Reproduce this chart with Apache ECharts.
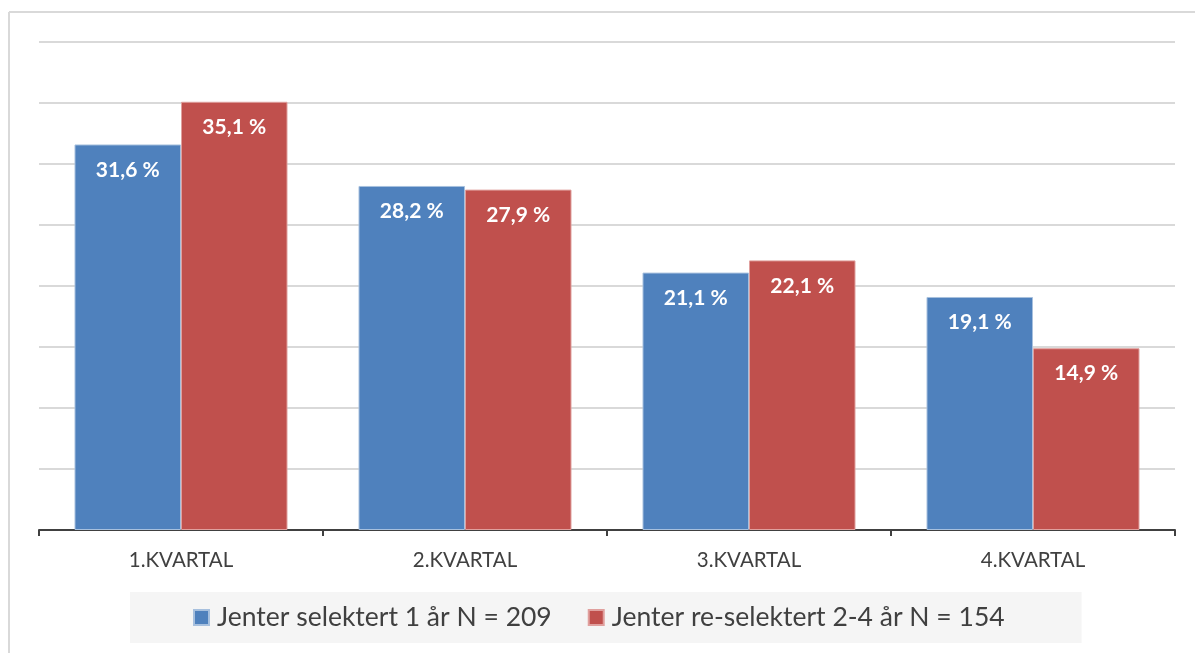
<!DOCTYPE html>
<html>
<head>
<meta charset="utf-8">
<script src="https://cdn.jsdelivr.net/npm/echarts@6/dist/echarts.min.js"></script>
<style>
  html, body { margin: 0; padding: 0; background: #fff; }
  #chart { width: 1195px; height: 653px; }
</style>
</head>
<body>
<div id="chart"></div>
<script>
// Quarter categories and the two groups' shares (percent)
const categories = ['1.KVARTAL', '2.KVARTAL', '3.KVARTAL', '4.KVARTAL'];
const seriesNames = ['Jenter selektert 1 år N = 209', 'Jenter re-selektert 2-4 år N = 154'];
const selected1 = [31.6, 28.2, 21.1, 19.1];
const reselected = [35.1, 27.9, 22.1, 14.9];

const FONT = 'Lato, "Open Sans", sans-serif';
const fmt = p => p.value.toFixed(1).replace('.', ',') + ' %';

const label = {
  show: true,
  position: 'insideTop',
  distance: 15,
  color: '#fff',
  fontWeight: 'bold',
  fontSize: 21,
  fontFamily: FONT,
  formatter: fmt
};

const chart = echarts.init(document.getElementById('chart'), null, { renderer: 'canvas' });
chart.setOption({
  animation: false,
  backgroundColor: '#fff',
  grid: { left: 39, right: 20, top: 42, bottom: 123, containLabel: false },
  xAxis: {
    type: 'category',
    data: categories,
    axisLine: { lineStyle: { color: '#404040', width: 2 } },
    axisTick: { show: true, length: 6, lineStyle: { color: '#404040', width: 2 } },
    axisLabel: { color: '#404040', fontSize: 20.5, fontFamily: FONT, margin: 20 }
  },
  yAxis: {
    type: 'value',
    min: 0,
    max: 40,
    interval: 5,
    axisLabel: { show: false },
    axisLine: { show: false },
    axisTick: { show: false },
    splitLine: { lineStyle: { color: '#d9d9d9', width: 2 } }
  },
  legend: {
    data: seriesNames,
    left: 130,
    top: 592,
    padding: [12, 77, 12, 63],
    backgroundColor: '#f5f5f5',
    itemWidth: 15,
    itemHeight: 15,
    itemGap: 36,
    icon: 'rect',
    textStyle: { color: '#404040', fontSize: 26.5, fontFamily: FONT, padding: [0, 0, 0, 3] }
  },
  graphic: [
    { type: 'line', shape: { x1: 9, y1: 12, x2: 1195, y2: 12 }, style: { stroke: '#d9d9d9', lineWidth: 2 }, z: 0 },
    { type: 'line', shape: { x1: 9, y1: 12, x2: 9, y2: 653 }, style: { stroke: '#d9d9d9', lineWidth: 2 }, z: 0 }
  ],
  series: [
    {
      name: seriesNames[0],
      type: 'bar',
      data: selected1,
      barGap: '0%',
      barCategoryGap: '25%',
      itemStyle: { color: '#4f81bd', borderColor: '#a7c0de', borderWidth: 1 },
      label: label
    },
    {
      name: seriesNames[1],
      type: 'bar',
      data: reselected,
      barGap: '0%',
      barCategoryGap: '25%',
      itemStyle: { color: '#c0504d', borderColor: '#e0a09e', borderWidth: 1 },
      label: label
    }
  ]
});
</script>
</body>
</html>
